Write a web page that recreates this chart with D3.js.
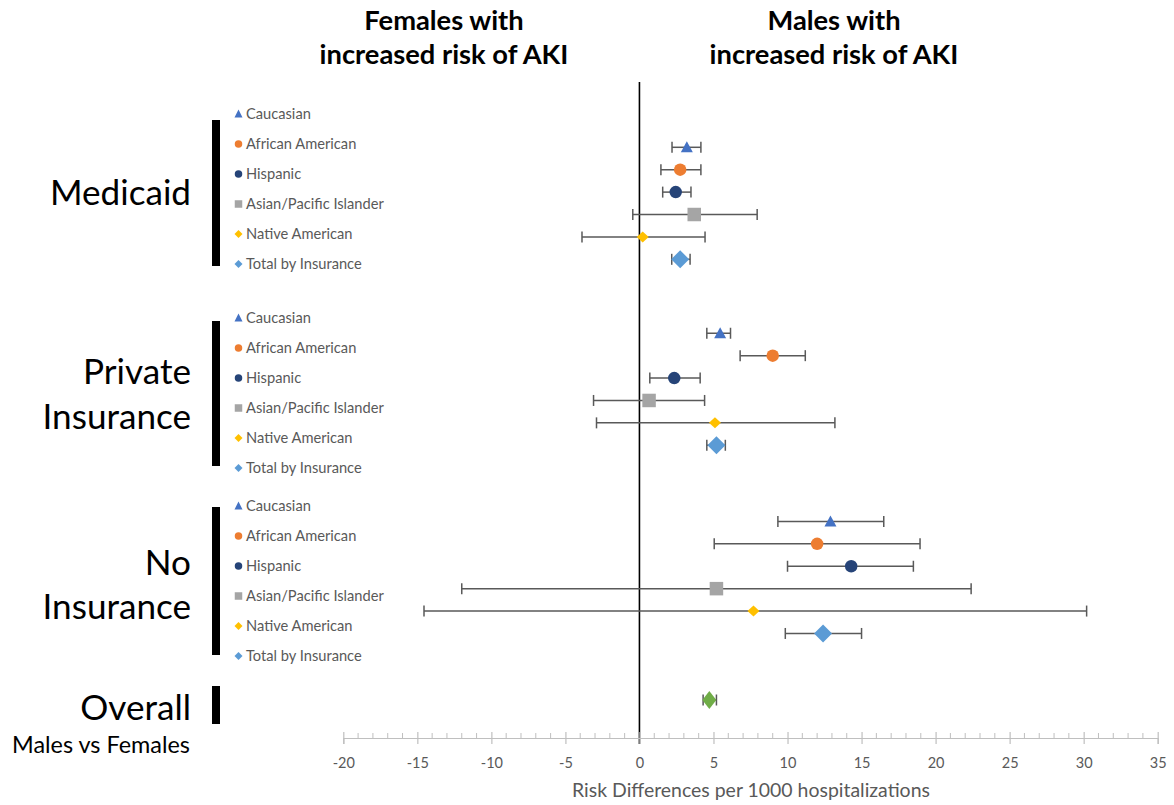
<!DOCTYPE html>
<html><head><meta charset="utf-8">
<script src="https://cdn.jsdelivr.net/npm/d3@7"></script>
<style>body{margin:0;background:#fff} svg{display:block}</style>
</head><body><svg id="c" width="1174" height="805"></svg>
<script>
// ---------- data ----------
const groups = ["Medicaid", "Private Insurance", "No Insurance"];
const groupLines = [["Medicaid"], ["Private", "Insurance"], ["No", "Insurance"]];
const races = ["Caucasian", "African American", "Hispanic", "Asian/Pacific Islander", "Native American", "Total by Insurance"];
const groupOffset = [0, 8.3, 16.7];          // row position of each group's first row
const overallRow = 24.67;

const medicaidEst = [3.2, 2.75, 2.45, 3.7, 0.22, 2.75];
const medicaidLo  = [2.2, 1.45, 1.57, -0.45, -3.88, 2.18];
const medicaidHi  = [4.15, 4.15, 3.48, 7.95, 4.43, 3.42];

const privateEst = [5.45, 9.0, 2.35, 0.65, 5.1, 5.2];
const privateLo  = [4.55, 6.8, 0.7, -3.1, -2.9, 4.55];
const privateHi  = [6.15, 11.2, 4.1, 4.4, 13.2, 5.8];

const noInsEst = [12.9, 12.0, 14.3, 5.2, 7.7, 12.4];
const noInsLo  = [9.35, 5.05, 10.0, -12.0, -14.55, 9.85];
const noInsHi  = [16.5, 18.95, 18.5, 22.4, 30.2, 15.0];

const overallEst = 4.72, overallLo = 4.3, overallHi = 5.2;

const majorTicks = [-20, -15, -10, -5, 0, 5, 10, 15, 20, 25, 30, 35];
const xTitle = "Risk Differences per 1000 hospitalizations";

// ---------- styles ----------
const colors = ["#4472C4", "#ED7D31", "#264478", "#A5A5A5", "#FFC000", "#5B9BD5"];
const overallColor = "#70AD47";
const shapes = ["triangle", "circle", "circle", "square", "diamond", "bigdiamond"];
const FONT = "Lato, 'Open Sans', 'Liberation Sans', sans-serif";

const svg = d3.select("#c");
const x = d3.scaleLinear().domain([-20, 35]).range([343.3, 1157.7]);
const y = d3.scaleLinear().domain([0, overallRow]).range([147.3, 700]);

function markerPath(shape, w, h) {
  const p = d3.path();
  if (shape === "triangle") {
    p.moveTo(0, -h / 2 - 1); p.lineTo(w / 2, h / 2); p.lineTo(-w / 2, h / 2); p.closePath();
  } else if (shape === "circle") {
    p.arc(0, 0, w / 2, 0, 2 * Math.PI);
  } else if (shape === "square") {
    p.rect(-w / 2, -h / 2, w, h);
  } else {
    p.moveTo(0, -h / 2); p.lineTo(w / 2, 0); p.lineTo(0, h / 2); p.lineTo(-w / 2, 0); p.closePath();
  }
  return p.toString();
}
const bigSize = { triangle: [12, 10], circle: [12.5, 12.5], square: [13.5, 13.5], diamond: [12, 11], bigdiamond: [18, 18] };
const smallSize = { triangle: [8, 7], circle: [7.5, 7.5], square: [7.5, 7.5], diamond: [8, 8], bigdiamond: [8, 8] };

// fit font size so a reference string has given width
function fitSize(text, weight, target) {
  const t = svg.append("text").attr("font-family", FONT).attr("font-weight", weight)
    .attr("font-size", 100).text(text);
  const w = t.node().getComputedTextLength();
  t.remove();
  return 100 * target / w;
}

// ---------- zero line ----------
svg.append("line").attr("x1", x(0)).attr("x2", x(0)).attr("y1", 82).attr("y2", 744)
  .attr("stroke", "#000").attr("stroke-width", 1.6);

// ---------- axis ----------
const axisY = 738;
const axisG = svg.append("g").attr("transform", `translate(0,${axisY})`);
const minor = d3.range(-20, 36, 1).filter(v => v % 5 !== 0);
axisG.selectAll("line.minor").data(minor).join("line")
  .attr("x1", d => x(d)).attr("x2", d => x(d)).attr("y1", -5).attr("y2", 0)
  .attr("stroke", "#BFBFBF").attr("stroke-width", 1);
const axis = d3.axisBottom(x).tickValues(majorTicks).tickFormat(d => String(d)).tickSize(6).tickPadding(12);
axisG.call(axis);
axisG.select(".domain").attr("stroke", "#BFBFBF").attr("stroke-width", 1.2);
axisG.selectAll(".tick line").attr("y1", -6).attr("y2", 6).attr("stroke", "#BFBFBF").attr("stroke-width", 1.2);
axisG.selectAll(".tick text").attr("fill", "#595959").attr("font-family", FONT)
  .attr("font-size", 14.5).attr("dy", "0.32em").attr("y", 25);
axisG.select(".tick:nth-child(" + (majorTicks.indexOf(0) + 1) + ") line").attr("stroke", "#BFBFBF");

svg.append("text").attr("x", 751).attr("y", 797).attr("text-anchor", "middle")
  .attr("font-family", FONT).attr("font-size", fitSize(xTitle, 400, 358))
  .attr("fill", "#595959").text(xTitle);

// ---------- titles ----------
const titleSize = fitSize("increased risk of AKI", 700, 249);
[["Females with", "increased risk of AKI", 444], ["Males with", "increased risk of AKI", 834]].forEach(([a, b, cx]) => {
  svg.append("text").attr("x", cx).attr("y", 30).attr("text-anchor", "middle")
    .attr("font-family", FONT).attr("font-weight", 700).attr("font-size", titleSize).attr("fill", "#000").text(a);
  svg.append("text").attr("x", cx).attr("y", 64).attr("text-anchor", "middle")
    .attr("font-family", FONT).attr("font-weight", 700).attr("font-size", titleSize).attr("fill", "#000").text(b);
});

// ---------- group labels and bars ----------
const gSize = fitSize("Medicaid", 400, 141);
const groupBaselines = [[205], [384, 429], [575, 619]];
const groupBars = [[120, 266], [321, 466], [507, 655]];
const legendTop = [114, 318, 506];
groups.forEach((g, gi) => {
  groupLines[gi].forEach((ln, li) => {
    svg.append("text").attr("x", 191).attr("y", groupBaselines[gi][li]).attr("text-anchor", "end")
      .attr("font-family", FONT).attr("font-size", gSize).attr("fill", "#000").text(ln);
  });
  svg.append("rect").attr("x", 212).attr("width", 8).attr("y", groupBars[gi][0])
    .attr("height", groupBars[gi][1] - groupBars[gi][0]).attr("fill", "#000");
});
svg.append("text").attr("x", 191).attr("y", 720).attr("text-anchor", "end")
  .attr("font-family", FONT).attr("font-size", gSize).attr("fill", "#000").text("Overall");
svg.append("rect").attr("x", 212).attr("width", 8).attr("y", 686).attr("height", 38).attr("fill", "#000");
svg.append("text").attr("x", 12).attr("y", 753)
  .attr("font-family", FONT).attr("font-size", fitSize("Males vs Females", 400, 178)).attr("fill", "#000").text("Males vs Females");

// ---------- legends ----------
const legSize = fitSize("Asian/Pacific Islander", 400, 138);
groups.forEach((g, gi) => {
  races.forEach((r, ri) => {
    const ly = legendTop[gi] + ri * 30;
    const sz = smallSize[shapes[ri]];
    svg.append("path").attr("d", markerPath(shapes[ri], sz[0], sz[1]))
      .attr("transform", `translate(238.5,${ly})`).attr("fill", colors[ri]);
    svg.append("text").attr("x", 246).attr("y", ly).attr("dy", "0.35em")
      .attr("font-family", FONT).attr("font-size", legSize).attr("fill", "#595959").text(r);
  });
});

// ---------- data points ----------
const est = [medicaidEst, privateEst, noInsEst];
const lo = [medicaidLo, privateLo, noInsLo];
const hi = [medicaidHi, privateHi, noInsHi];
const points = [];
groups.forEach((g, gi) => races.forEach((r, ri) => points.push({
  row: groupOffset[gi] + ri, est: est[gi][ri], lo: lo[gi][ri], hi: hi[gi][ri],
  shape: shapes[ri], color: colors[ri], size: bigSize[shapes[ri]]
})));
points.push({ row: overallRow, est: overallEst, lo: overallLo, hi: overallHi, shape: "diamond", color: overallColor, size: [14, 18] });

const eb = svg.append("g").attr("stroke", "#595959").attr("stroke-width", 1.5);
points.forEach(p => {
  const yy = y(p.row);
  eb.append("line").attr("x1", x(p.lo)).attr("x2", x(p.hi)).attr("y1", yy).attr("y2", yy);
  [p.lo, p.hi].forEach(v => eb.append("line").attr("x1", x(v)).attr("x2", x(v)).attr("y1", yy - 5.5).attr("y2", yy + 5.5));
});
svg.append("g").selectAll("path").data(points).join("path")
  .attr("d", p => markerPath(p.shape, p.size[0], p.size[1]))
  .attr("transform", p => `translate(${x(p.est)},${y(p.row)})`)
  .attr("fill", p => p.color);
</script></body></html>
